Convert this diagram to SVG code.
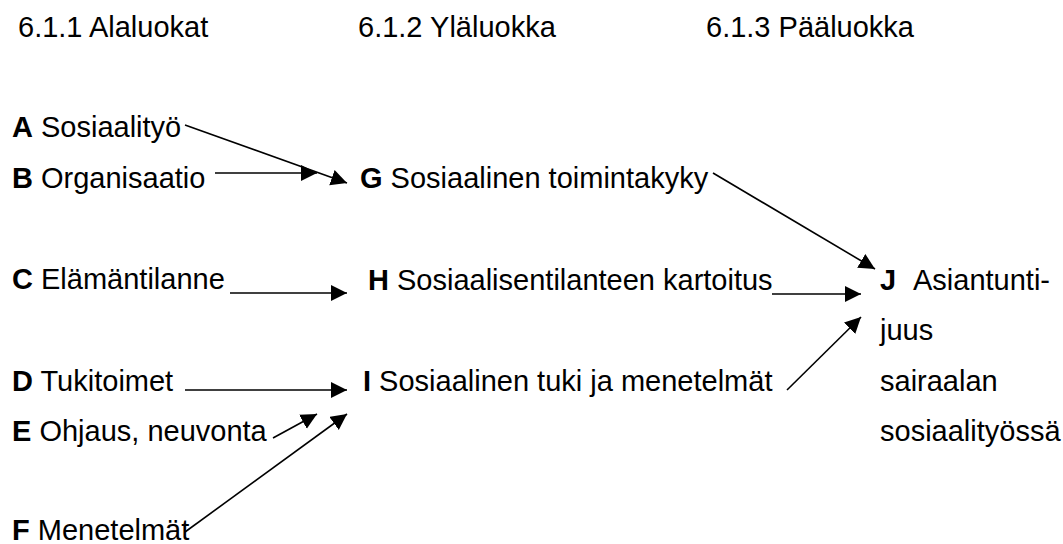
<svg xmlns="http://www.w3.org/2000/svg" width="1063" height="544" viewBox="0 0 1063 544">
  <style>
    text { font-family: "Liberation Sans", Arial, sans-serif; font-size: 29px; fill: #000; }
    .b { font-weight: bold; }
    .c line { stroke: #000; stroke-width: 1.6; marker-end: url(#ah); }
  </style>
  <defs>
    <marker id="ah" markerUnits="userSpaceOnUse" markerWidth="18" markerHeight="18" viewBox="0 0 18 18" refX="16" refY="8" orient="auto">
      <path d="M0,0 L16,8 L0,16 Z" fill="#000"/>
    </marker>
  </defs>
  <rect width="1063" height="544" fill="#fff"/>
  <g id="headers">
    <text x="18" y="37">6.1.1 Alaluokat</text>
    <text x="358" y="37">6.1.2 Yläluokka</text>
    <text x="706" y="37">6.1.3 Pääluokka</text>
  </g>
  <g id="A"><text x="12" y="137"><tspan class="b">A</tspan> Sosiaalityö</text></g>
  <g id="B"><text x="12" y="188"><tspan class="b">B</tspan> Organisaatio</text></g>
  <g id="C"><text x="12" y="289"><tspan class="b">C</tspan> Elämäntilanne</text></g>
  <g id="D"><text x="12" y="391"><tspan class="b">D</tspan> Tukitoimet</text></g>
  <g id="E"><text x="12" y="441"><tspan class="b">E</tspan> Ohjaus, neuvonta</text></g>
  <g id="F"><text x="12" y="540"><tspan class="b">F</tspan> Menetelmät</text></g>
  <g id="G"><text x="360" y="188"><tspan class="b">G</tspan> Sosiaalinen toimintakyky</text></g>
  <g id="H"><text x="368" y="290"><tspan class="b">H</tspan> Sosiaalisentilanteen kartoitus</text></g>
  <g id="I"><text x="363" y="391"><tspan class="b">I</tspan> Sosiaalinen tuki ja menetelmät</text></g>
  <g id="J">
    <text x="880" y="290"><tspan class="b">J</tspan><tspan x="913">Asiantunti-</tspan></text>
    <text x="880" y="340">juus</text>
    <text x="880" y="391">sairaalan</text>
    <text x="880" y="441">sosiaalityössä</text>
  </g>
  <g id="connectors" class="c">
    <line x1="185" y1="125" x2="347" y2="183"/>
    <line x1="215" y1="173" x2="317" y2="173"/>
    <line x1="230" y1="293" x2="347" y2="293"/>
    <line x1="185" y1="390" x2="347" y2="390"/>
    <line x1="273" y1="438" x2="317" y2="414"/>
    <line x1="185" y1="532" x2="347" y2="414"/>
    <line x1="713" y1="173" x2="875" y2="269"/>
    <line x1="772" y1="294" x2="861" y2="294"/>
    <line x1="787" y1="390" x2="861" y2="317"/>
  </g>
</svg>
